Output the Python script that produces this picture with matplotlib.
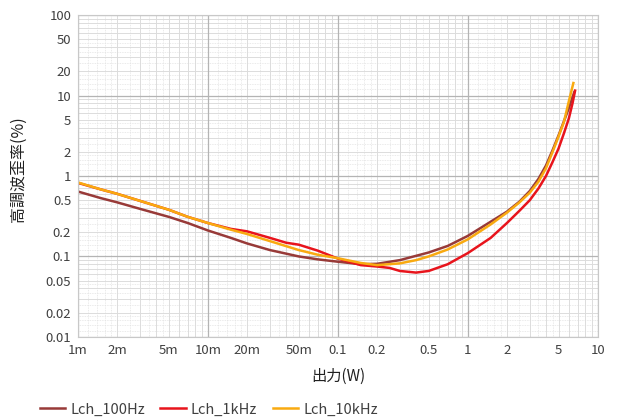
import numpy as np
import matplotlib.pyplot as plt
from matplotlib.ticker import FixedLocator, NullFormatter

plt.rcParams['font.family'] = ['Noto Sans CJK JP', 'DejaVu Sans']

# data (output W, THD %)
x_100hz = [0.001, 0.0015, 0.002, 0.003, 0.005, 0.007, 0.01, 0.015, 0.02, 0.03, 0.05, 0.07,
           0.1, 0.15, 0.2, 0.3, 0.5, 0.7, 1, 1.5, 2, 2.5, 3, 3.5, 4, 4.5, 5, 5.5, 6, 6.3, 6.6]
thd_100hz = [0.64, 0.53, 0.47, 0.39, 0.31, 0.26, 0.21, 0.17, 0.145, 0.12, 0.1, 0.092,
             0.086, 0.08, 0.081, 0.09, 0.112, 0.135, 0.18, 0.27, 0.36, 0.48, 0.65, 0.92, 1.35,
             2.1, 3.2, 4.8, 7.0, 8.8, 11]

x_1khz = [0.001, 0.0015, 0.002, 0.003, 0.005, 0.007, 0.01, 0.015, 0.02, 0.03, 0.04, 0.05, 0.07,
          0.1, 0.15, 0.2, 0.25, 0.3, 0.4, 0.5, 0.7, 1, 1.5, 2, 2.5, 3, 3.5, 4, 4.5, 5, 5.5, 6,
          6.4, 6.7]
thd_1khz = [0.82, 0.68, 0.6, 0.49, 0.38, 0.31, 0.26, 0.22, 0.205, 0.17, 0.148, 0.14, 0.118,
            0.094, 0.078, 0.075, 0.072, 0.066, 0.063, 0.066, 0.08, 0.11, 0.17, 0.26, 0.37, 0.5,
            0.7, 1.0, 1.5, 2.2, 3.4, 5.2, 8.0, 11.5]

x_10khz = [0.001, 0.0015, 0.002, 0.003, 0.005, 0.007, 0.01, 0.015, 0.02, 0.03, 0.05, 0.07,
           0.1, 0.15, 0.2, 0.3, 0.4, 0.5, 0.7, 1, 1.5, 2, 2.5, 3, 3.5, 4, 4.5, 5, 5.5, 6, 6.5]
thd_10khz = [0.83, 0.68, 0.6, 0.49, 0.38, 0.31, 0.26, 0.215, 0.19, 0.155, 0.12, 0.105,
             0.095, 0.083, 0.078, 0.082, 0.09, 0.1, 0.122, 0.163, 0.25, 0.35, 0.47, 0.62, 0.85,
             1.25, 2.0, 3.1, 4.7, 8.5, 14.3]

x_ticks = [0.001, 0.002, 0.005, 0.01, 0.02, 0.05, 0.1, 0.2, 0.5, 1, 2, 5, 10]
x_labels = ['1m', '2m', '5m', '10m', '20m', '50m', '0.1', '0.2', '0.5', '1', '2', '5', '10']
y_ticks = [0.01, 0.02, 0.05, 0.1, 0.2, 0.5, 1, 2, 5, 10, 20, 50, 100]
y_labels = ['0.01', '0.02', '0.05', '0.1', '0.2', '0.5', '1', '2', '5', '10', '20', '50', '100']

fig = plt.figure(figsize=(6.2, 4.18), dpi=100)
ax = fig.add_axes([0.126, 0.194, 0.838, 0.770])
ax.set_xscale('log')
ax.set_yscale('log')
ax.set_xlim(0.001, 10)
ax.set_ylim(0.01, 100)

# grid: decades, 2..9 and finer dotted lines
decades = [10.0 ** k for k in range(-3, 3)]
minor = [d * m for d in decades for m in range(2, 10)]
fine = [d * m for d in decades for m in (1.2, 1.4, 1.6, 1.8, 2.5, 3.5, 4.5)]
for v in fine:
    ax.axvline(v, color='#E3E3E3', lw=0.6, ls=(0, (1, 1)), zorder=0)
    ax.axhline(v, color='#E3E3E3', lw=0.6, ls=(0, (1, 1)), zorder=0)
for v in minor:
    ax.axvline(v, color='#DCDCDC', lw=0.7, zorder=0)
    ax.axhline(v, color='#DCDCDC', lw=0.7, zorder=0)
for v in decades:
    ax.axvline(v, color='#B4B4B4', lw=0.9, zorder=0)
    ax.axhline(v, color='#B4B4B4', lw=0.9, zorder=0)

ax.plot(x_100hz, thd_100hz, color='#983A38', lw=1.8, label='Lch_100Hz')
ax.plot(x_1khz, thd_1khz, color='#E8141C', lw=1.8, label='Lch_1kHz')
ax.plot(x_10khz, thd_10khz, color='#F9AA10', lw=1.8, label='Lch_10kHz')

ax.xaxis.set_major_locator(FixedLocator(x_ticks))
ax.set_xticklabels(x_labels)
ax.yaxis.set_major_locator(FixedLocator(y_ticks))
ax.set_yticklabels(y_labels)
ax.xaxis.set_minor_formatter(NullFormatter())
ax.yaxis.set_minor_formatter(NullFormatter())
ax.tick_params(which='both', length=0, labelsize=9.5, labelcolor='#404040', pad=5)
for s in ax.spines.values():
    s.set_color('#C8C8C8')

ax.set_xlabel('出力(W)', fontsize=11, color='#202020', labelpad=8)
ax.set_ylabel('高調波歪率(%)', fontsize=11.5, color='#202020', labelpad=12)
ax.yaxis.set_label_coords(-0.098, 0.52)

fig.legend(loc='lower left', bbox_to_anchor=(0.043, -0.028), ncol=3, frameon=False,
           fontsize=10.5, handlelength=1.75, handletextpad=0.35, columnspacing=1.05,
           labelcolor='#404040')

fig.savefig('out.png', dpi=100)
